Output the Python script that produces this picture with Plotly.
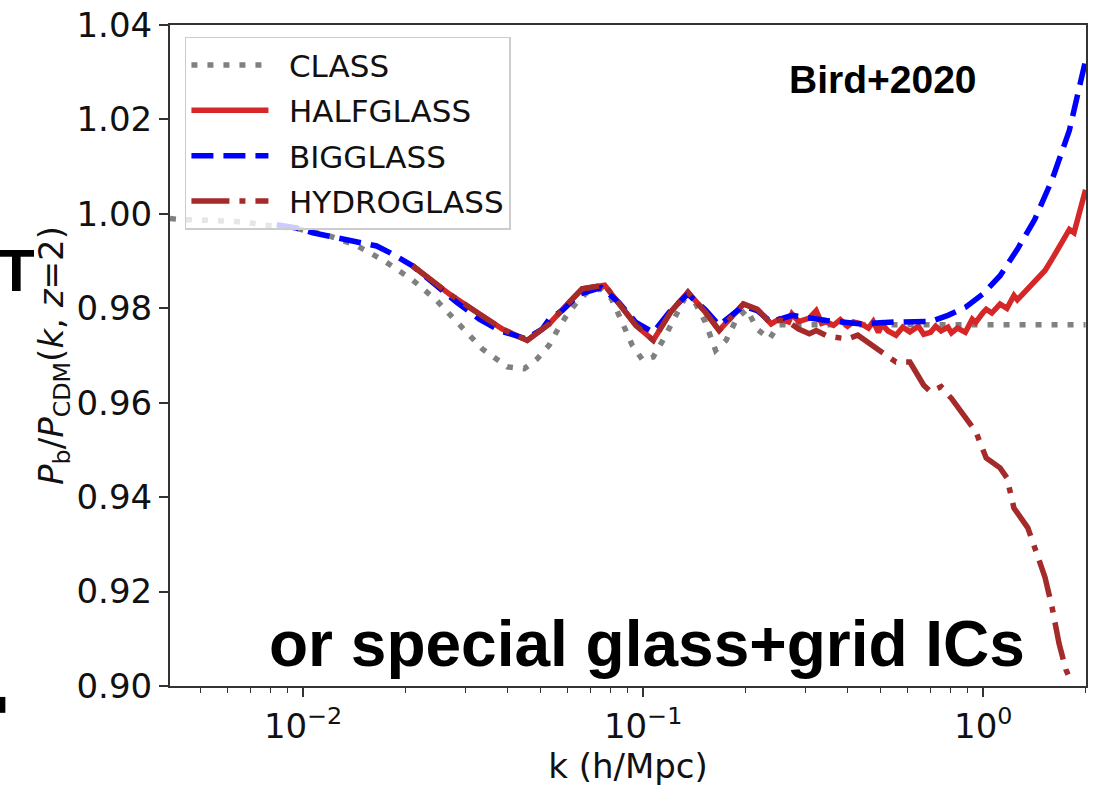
import plotly.graph_objects as go

# Baryon / CDM power-spectrum ratio at z = 2 versus wavenumber k (h/Mpc)

# CLASS linear theory
class_k = [0.00406, 0.00435, 0.00539, 0.00674, 0.00756, 0.00958, 0.0120, 0.01437, 0.01737,
           0.02098, 0.02467, 0.02883, 0.03366, 0.03986, 0.04471, 0.04883, 0.05293, 0.05548,
           0.05953, 0.06387, 0.06843, 0.07521, 0.08075, 0.08668, 0.09298, 0.09977, 0.1071,
           0.1149, 0.1232, 0.1323, 0.1419, 0.1523, 0.1633, 0.1753, 0.1881, 0.2017, 0.2165,
           0.2350, 0.2503, 0.35, 0.5, 0.7, 1.0, 1.4, 2.0]
class_r = [0.9990, 0.9988, 0.9986, 0.9983, 0.9977, 0.9969, 0.9953, 0.9933, 0.9900,
           0.9860, 0.9817, 0.9766, 0.9714, 0.9676, 0.9672, 0.9693, 0.9722, 0.9749,
           0.9785, 0.9813, 0.9834, 0.9841, 0.9820, 0.9771, 0.9721, 0.9690, 0.9697,
           0.9735, 0.9777, 0.9820, 0.9813, 0.9771, 0.9711, 0.9732, 0.9777, 0.9798, 0.9756,
           0.9735, 0.9765, 0.9765, 0.9765, 0.9765, 0.9765, 0.9765, 0.9765]

# HALFGLASS simulation
half_k = [0.02098, 0.02694, 0.03299, 0.03854, 0.04562, 0.05294, 0.05938, 0.06617, 0.07707,
          0.08468, 0.09521, 0.1071, 0.1204, 0.1354, 0.1523, 0.1673, 0.1971, 0.2165, 0.2379,
          0.2520, 0.2679, 0.2739, 0.2866, 0.3081, 0.3228, 0.3350, 0.3462, 0.3631, 0.3800,
          0.3990, 0.4150, 0.4381, 0.4598, 0.4750, 0.4920, 0.5044, 0.5250, 0.5541, 0.5800,
          0.6087, 0.6232, 0.6450, 0.6685, 0.7003, 0.7250, 0.7519, 0.7877, 0.8066, 0.8400,
          0.8860, 0.9284, 0.9506, 0.9965, 1.0205, 1.0600, 1.1209, 1.1743, 1.2314, 1.2600,
          1.3528, 1.4171, 1.4800, 1.5199, 1.5937, 1.6711, 1.7926, 1.8500, 1.9231, 2.0]
half_r = [0.9890, 0.9830, 0.9788, 0.9756, 0.9732, 0.9767, 0.9806, 0.9841, 0.9849,
          0.9813, 0.9764, 0.9732, 0.9792, 0.9834, 0.9792, 0.9753, 0.9809, 0.9798, 0.9767,
          0.9778, 0.9771, 0.9788, 0.9772, 0.9779, 0.9795, 0.9768, 0.9771, 0.9764, 0.9776,
          0.9762, 0.9771, 0.9767, 0.9758, 0.9772, 0.9749, 0.9766, 0.9752, 0.9743, 0.9760,
          0.9750, 0.9756, 0.9762, 0.9745, 0.9749, 0.9762, 0.9752, 0.9760, 0.9748, 0.9758,
          0.9749, 0.9777, 0.9770, 0.9790, 0.9798, 0.9790, 0.9809, 0.9800, 0.9827, 0.9818,
          0.9840, 0.9855, 0.9870, 0.9880, 0.9904, 0.9930, 0.9967, 0.9960, 1.0009, 1.0051]

# BIGGLASS simulation
big_k = [0.00837, 0.00958, 0.01068, 0.01198, 0.01371, 0.01645, 0.01797, 0.02098, 0.02468,
         0.02824, 0.03299, 0.03777, 0.04532, 0.05048, 0.05294, 0.05779, 0.06484, 0.07521,
         0.08468, 0.09521, 0.1071, 0.1204, 0.1354, 0.1523, 0.1673, 0.1971, 0.2165, 0.2379,
         0.2739, 0.3462, 0.4381, 0.5541, 0.7003, 0.7877, 0.8860, 0.9965, 1.1209, 1.2600,
         1.4171, 1.5937, 1.7926, 2.0]
big_r = [0.9977, 0.9970, 0.9960, 0.9953, 0.9942, 0.9932, 0.9918, 0.9890, 0.9848,
         0.9813, 0.9777, 0.9753, 0.9735, 0.9756, 0.9777, 0.9795, 0.9830, 0.9844,
         0.9813, 0.9770, 0.9749, 0.9795, 0.9830, 0.9797, 0.9764, 0.9805, 0.9795, 0.9771,
         0.9785, 0.9774, 0.9767, 0.9771, 0.9772, 0.9785, 0.9802, 0.9830, 0.9869, 0.9925,
         0.9988, 1.0072, 1.0177, 1.0325]

# HYDROGLASS simulation
hydro_k = [0.02098, 0.02694, 0.03299, 0.03854, 0.04562, 0.05294, 0.05938, 0.06617, 0.07707,
           0.08468, 0.09521, 0.1071, 0.1204, 0.1354, 0.1523, 0.1673, 0.1971, 0.2165, 0.2379,
           0.2520, 0.2679, 0.2866, 0.3081, 0.3228, 0.3462, 0.3631, 0.3990, 0.4278, 0.4598,
           0.5044, 0.5541, 0.6087, 0.6685, 0.7003, 0.7519, 0.8066, 0.8860, 0.9506, 1.0205,
           1.1209, 1.1743, 1.2314, 1.3528, 1.4171, 1.5199, 1.5937, 1.6711, 1.7521, 1.8122]
hydro_r = [0.9890, 0.9830, 0.9788, 0.9756, 0.9732, 0.9767, 0.9806, 0.9841, 0.9849,
           0.9813, 0.9764, 0.9732, 0.9792, 0.9834, 0.9792, 0.9753, 0.9809, 0.9798, 0.9767,
           0.9775, 0.9771, 0.9756, 0.9746, 0.9753, 0.9742, 0.9739, 0.9735, 0.9743, 0.9728,
           0.9707, 0.9686, 0.9686, 0.9637, 0.9623, 0.9634, 0.9609, 0.9567, 0.9539, 0.9483,
           0.9462, 0.9441, 0.9377, 0.9335, 0.9293, 0.9230, 0.9167, 0.9090, 0.9034, 0.9010]

y_ticks = [0.90, 0.92, 0.94, 0.96, 0.98, 1.00, 1.02, 1.04]
y_ticktext = ["0.90", "0.92", "0.94", "0.96", "0.98", "1.00", "1.02", "1.04"]
x_ticks = [0.01, 0.1, 1.0]
x_ticktext = ["10<sup>\u22122</sup>", "10<sup>\u22121</sup>", "10<sup>0</sup>"]
x_minor = [m * d for d in (0.001, 0.01, 0.1, 1.0) for m in range(2, 10)]

LW = 5.5
# en space keeps a gap between the legend line sample and its label
GAP = "\u2002"
series = [
    ("CLASS", class_k, class_r, "#808080", "6px,10px"),
    ("HALFGLASS", half_k, half_r, "#d62728", "solid"),
    ("BIGGLASS", big_k, big_r, "#0000ff", "22px,10px"),
    ("HYDROGLASS", hydro_k, hydro_r, "#a52a2a", "38px,10px,6px,10px"),
]

fig = go.Figure()
for name, kk, rr, col, dash in series:
    fig.add_trace(go.Scatter(
        x=kk, y=rr, mode="lines", name=GAP + name, legendgroup=name,
        line=dict(color=col, width=LW, dash=dash),
    ))

tick_font = dict(family="DejaVu Sans", size=34, color="#111111")

fig.update_layout(
    width=1093, height=788,
    margin=dict(l=170, r=5, t=21, b=102, pad=0),
    paper_bgcolor="white", plot_bgcolor="white",
    showlegend=True,
    legend=dict(
        x=0.0163, y=0.982, xanchor="left", yanchor="top",
        bgcolor="rgba(255,255,255,0.8)", bordercolor="#cccccc", borderwidth=1.5,
        font=dict(family="DejaVu Sans", size=31, color="#111111"),
        itemwidth=77, tracegroupgap=2, traceorder="grouped",
    ),
    xaxis=dict(
        type="log", range=[-2.3914, 0.3023],
        tickmode="array", tickvals=x_ticks, ticktext=x_ticktext,
        ticks="outside", ticklen=9, tickwidth=1.5, tickcolor="#333333",
        showline=True, linecolor="#333333", linewidth=2, mirror=True,
        showgrid=False, zeroline=False, tickfont=tick_font,
        minor=dict(tickmode="array", tickvals=x_minor, ticks="outside",
                   ticklen=5, tickwidth=1.2, tickcolor="#333333", showgrid=False),
        title=dict(text="k (h/Mpc)", font=dict(family="DejaVu Sans", size=34, color="#111111"),
                   standoff=8),
    ),
    yaxis=dict(
        range=[0.90, 1.04],
        tickmode="array", tickvals=y_ticks, ticktext=y_ticktext,
        ticks="outside", ticklen=9, tickwidth=1.5, tickcolor="#333333",
        showline=True, linecolor="#333333", linewidth=2, mirror=True,
        showgrid=False, zeroline=False, tickfont=tick_font,
        title=dict(text="<i>P</i><sub>b</sub>/<i>P</i><sub>CDM</sub>(<i>k</i>, <i>z</i>=2)",
                   font=dict(family="DejaVu Sans", size=34, color="#111111"), standoff=2),
    ),
    annotations=[
        dict(text="<b>Bird+2020</b>", xref="paper", yref="paper", x=0.7789, y=0.9173,
             xanchor="center", yanchor="middle", showarrow=False,
             font=dict(family="Liberation Sans", size=39, color="black")),
        dict(text="<b>or special glass+grid ICs</b>", xref="paper", yref="paper",
             x=0.5212, y=0.064, xanchor="center", yanchor="middle", showarrow=False,
             font=dict(family="Liberation Sans", size=64, color="black")),
        dict(text="<b>T</b>", xref="paper", yref="paper", x=-0.145, y=0.6286,
             xanchor="right", yanchor="middle", showarrow=False,
             font=dict(family="Liberation Sans", size=60, color="black")),
    ],
    shapes=[
        dict(type="rect", xref="paper", yref="paper",
             x0=-0.19, x1=(5 - 170) / 918, y0=(686 - 713) / 665, y1=(686 - 697) / 665,
             fillcolor="black", line=dict(width=0)),
    ],
)

fig.write_html("out.html")
